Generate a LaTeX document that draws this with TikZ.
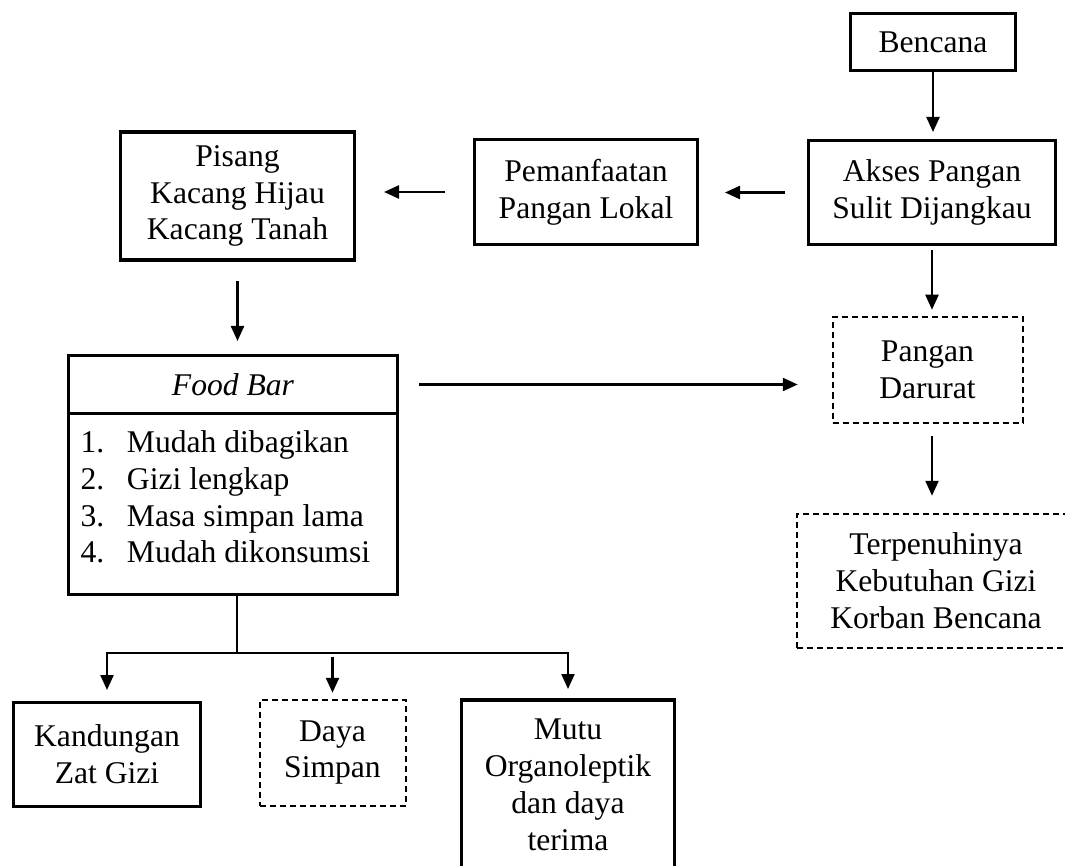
\documentclass[tikz,border=0pt]{standalone}
\usepackage{fontspec}
\setmainfont{Liberation Serif}
\usetikzlibrary{arrows.meta,calc}
\newcommand\myfs{\fontsize{31.6}{36.8}\selectfont}
\begin{document}
\begin{tikzpicture}[x=1pt,y=-1pt,
  box/.style={draw, line width=3.5pt, align=center, inner sep=0pt, outer sep=0pt, font=\myfs},
  dbox/.style={draw, line width=2pt, dash pattern=on 6pt off 4pt, align=center, inner sep=0pt, outer sep=0pt, font=\myfs},
  arr/.style={line width=2.3pt, -{Triangle[length=15pt,width=13pt]}},
  ln/.style={line width=2.3pt}]
\useasboundingbox (0,0) rectangle (1065,866);

\node[box, minimum width=165pt, minimum height=57pt] (ben) at (933,42) {Bencana};
\node[box, minimum width=247pt, minimum height=104pt] (akses) at (932,192.5) {Akses Pangan\\Sulit Dijangkau};
\node[box, minimum width=223pt, minimum height=105pt] (pem) at (586,192) {Pemanfaatan\\Pangan Lokal};
\node[box, minimum width=234pt, minimum height=128pt] (pisang) at (237.5,196) {\raisebox{-4pt}{\parbox{230pt}{\centering Pisang\\Kacang Hijau\\Kacang Tanah}}};
\node[box, minimum width=329pt, minimum height=58pt] (fbhead) at (233,384.5) {\textit{Food Bar}};
\node[box, anchor=north] (fblist) at (fbhead.south)
  {\parbox[c][181pt][t]{329pt}{\raggedright\leftskip=12pt\relax
   \vspace*{17pt}%
   \makebox[46.5pt][l]{1.}Mudah dibagikan\\
   \makebox[46.5pt][l]{2.}Gizi lengkap\\
   \makebox[46.5pt][l]{3.}Masa simpan lama\\
   \makebox[46.5pt][l]{4.}Mudah dikonsumsi}};
\node[dbox, minimum width=190pt, minimum height=105pt] (pd) at (927.5,370) {Pangan\\Darurat};
\node[dbox, minimum width=279pt, minimum height=134pt] (terp) at (936,580.5) {Terpenuhinya\\Kebutuhan Gizi\\Korban Bencana};
\node[box, minimum width=187pt, minimum height=104pt] (kand) at (107,754.5) {Kandungan\\Zat Gizi};
\node[dbox, minimum width=146pt, minimum height=106pt] (daya) at (332.5,752.5) {Daya\\Simpan};
\node[box, minimum width=213pt, minimum height=170pt] (mutu) at (568,785) {Mutu\\Organoleptik\\dan daya\\terima};

% arrows
\draw[arr] (ben.south) -- ($(ben.south |- akses.north)+(0,-8.5)$);
\draw[arr] ($(akses.west)+(-23.5,0)$) -- ($(akses.west -| pem.east)+(27.5,0)$);
\draw[arr] ($(pem.west)+(-29.5,0)$) -- ($(pem.west -| pisang.east)+(29.5,0)$);
\draw[arr] ($(pisang.south)+(0,21.5)$) -- ($(pisang.south |- fbhead.north)+(0,-14.5)$);
\draw[arr] ($(akses.south)+(0,5.5)$) -- ($(akses.south |- pd.north)+(0,-7.75)$);
\draw[arr] ($(fbhead.east)+(21.5,0)$) -- ($(fbhead.east -| pd.west)+(-34.75,0)$);
\draw[arr] ($(akses.south |- pd.south)+(0,13.75)$) -- ($(akses.south |- terp.north)+(0,-17.75)$);

% tree
\coordinate (jn) at (237,653);
\draw[ln] (fblist.south -| jn) -- (jn);
\draw[arr] (jn) -| ($(kand.north)+(0,-12.5)$);
\draw[arr] (jn) -| ($(mutu.north)+(0,-11)$);
\draw[arr] ($(daya.north |- jn)+(0,4)$) -- ($(daya.north)+(0,-6.75)$);
\end{tikzpicture}
\end{document}
